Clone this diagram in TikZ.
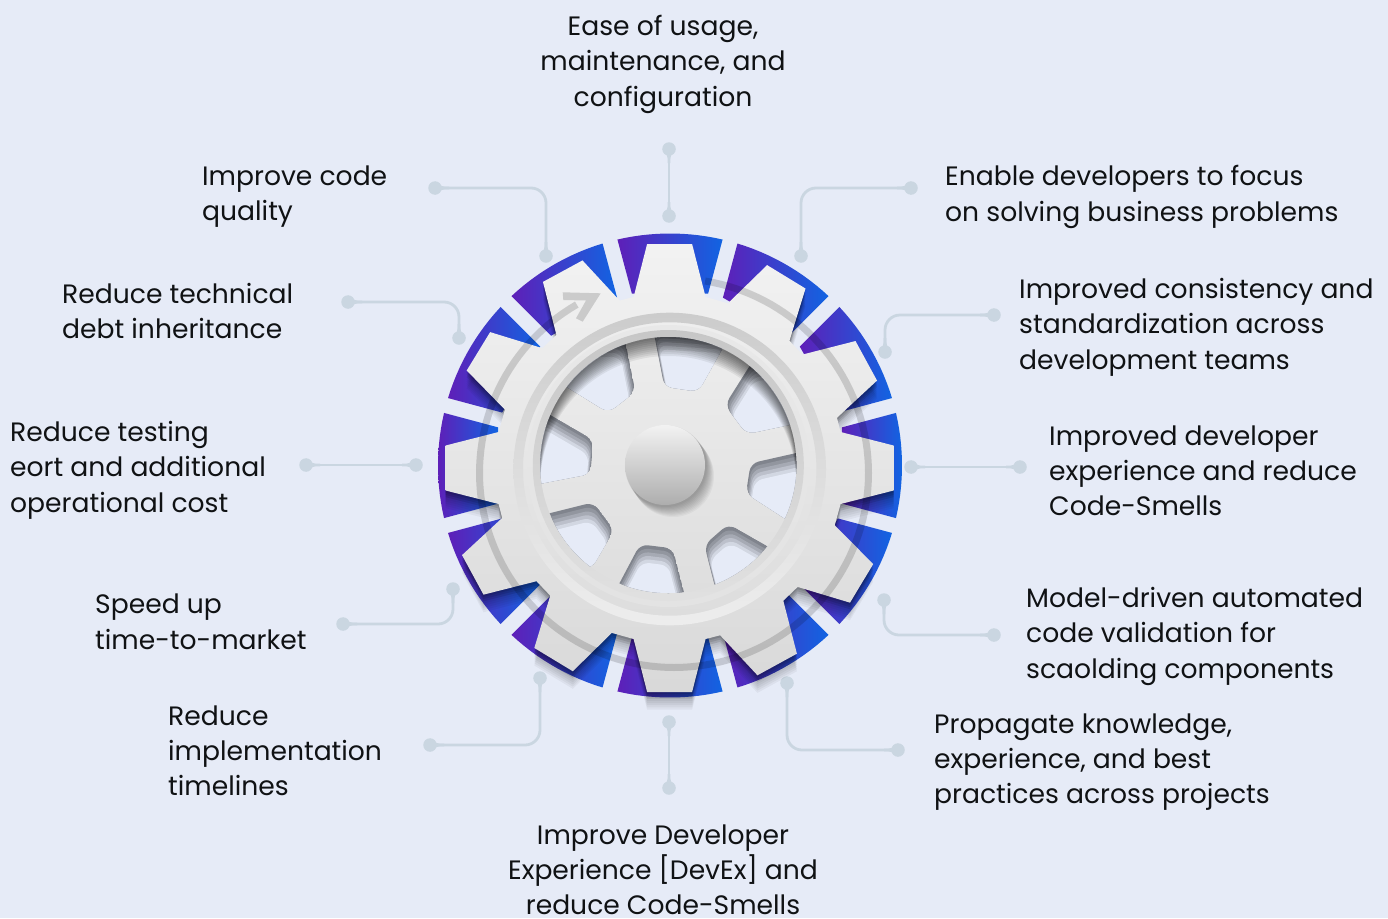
\documentclass[tikz,border=0pt]{standalone}
\usepackage{fontspec}
\setmainfont{Poppins}
\definecolor{bgc}{HTML}{E6EBF7}
\definecolor{gpurple}{HTML}{5E1FB8}
\definecolor{gblue}{HTML}{1164E2}
\definecolor{conncol}{HTML}{CAD6E1}
\definecolor{txt}{HTML}{101214}
\definecolor{h0}{HTML}{80848D}
\definecolor{h1}{HTML}{92969F}
\definecolor{h2}{HTML}{A6AAB4}
\definecolor{h3}{HTML}{BCC0CB}
\definecolor{h4}{HTML}{D2D7E2}
\definecolor{h5}{HTML}{E6EBF7}
\tikzset{
  lab/.style={font=\fontsize{26.6}{35.3}\selectfont,text=txt,align=left,inner sep=0pt,anchor=west,execute at begin node=\strut,execute at end node=\strut},
  labc/.style={font=\fontsize{26.6}{35.3}\selectfont,text=txt,align=center,inner sep=0pt,execute at begin node=\strut,execute at end node=\strut},
  dotn/.style={circle,fill=conncol,inner sep=0pt,minimum size=13.5pt},
  conn/.style={draw=conncol,line width=2.8pt,rounded corners=15pt}
}
% local tooth coordinate to page: x, y(up), clockwise angle
\newcommand\GP[3]{({669.6+(#1)*cos(#3)+(#2)*sin(#3)},{468-(-(#1)*sin(#3)+(#2)*cos(#3))})}
\newcommand\gearpath{\GP{-36}{171}{0}
  \foreach \ang in {0,31.4,61.4,90,121,151.3,180,211.2,241.5,270,301.4,331.5}{
   -- \GP{-36}{171}{\ang} -- \GP{-22.5}{224}{\ang} -- \GP{22.5}{224}{\ang} -- \GP{36}{171}{\ang}} -- cycle}
% a terminal: named dot with taper towards the line
\newcommand\drop[4]{\node[dotn] (#1) at (#2,#3) {};
  \fill[conncol,shift={(#2,#3)},rotate=#4] (0,-6.7) .. controls (6,-1.4) .. (14,-1.4) -- (14,1.4) .. controls (6,1.4) .. (0,6.7) -- cycle;}
% wheel opening: centroid x, centroid y, path
\newcommand\hole[3]{\begin{scope}
  \clip[rounded corners=8pt] #3;
  \foreach \k/\c in {0/h0,1/h1,2/h2,3/h3,4/h4,5/h5}{
    \fill[\c,rounded corners=8pt,shift={(#1,#2+8*\k)},scale={1-0.035*\k},shift={(-#1,-#2)}] #3;}
  \end{scope}}
\begin{document}
\begin{tikzpicture}[x=1pt,y=-1pt]
\useasboundingbox (0,0) rectangle (1388,918);
\fill[bgc] (0,0) rectangle (1388,918);

% connectors
\drop{t1}{669}{149}{270}\drop{t2}{669}{216}{90}
\draw[conn] (t1.center) -- (t2.center);
\drop{ic1}{435}{188}{0}\drop{ic2}{546}{256}{90}
\draw[conn] (ic1.center) -| (ic2.center);
\drop{en1}{911}{188}{180}\drop{en2}{801}{256}{90}
\draw[conn] (en1.center) -| (en2.center);
\drop{rt1}{348}{302}{0}\drop{rt2}{459}{338}{90}
\draw[conn] (rt1.center) -| (rt2.center);
\drop{cs1}{994}{315}{180}\drop{cs2}{885}{352}{90}
\draw[conn] (cs1.center) -| (cs2.center);
\drop{rc1}{306}{465}{0}\drop{rc2}{416}{465}{180}
\draw[conn] (rc1.center) -- (rc2.center);
\drop{dx1}{911}{467}{0}\drop{dx2}{1020}{467}{180}
\draw[conn] (dx1.center) -- (dx2.center);
\drop{sp1}{343}{624}{0}\drop{sp2}{453}{589}{270}
\draw[conn] (sp1.center) -| (sp2.center);
\drop{md1}{994}{635}{180}\drop{md2}{884}{600}{270}
\draw[conn] (md1.center) -| (md2.center);
\drop{im1}{430}{745}{0}\drop{im2}{540}{678}{270}
\draw[conn] (im1.center) -| (im2.center);
\drop{pk1}{898}{750}{180}\drop{pk2}{787}{683}{270}
\draw[conn] (pk1.center) -| (pk2.center);
\drop{de1}{669}{722}{270}\drop{de2}{669}{788}{90}
\draw[conn] (de1.center) -- (de2.center);

% coloured sectors
\foreach \a in {0,30,...,330}{
  \shade[left color=gpurple,right color=gblue]
    ({670+176*sin(\a-12.5)},{465.5-176*cos(\a-12.5)})
    -- plot[domain=\a-13.1:\a+13.1,samples=14,variable=\t] ({670+232*sin(\t)},{465.5-232*cos(\t)})
    -- ({670+176*sin(\a+12.5)},{465.5-176*cos(\a+12.5)}) -- cycle;
}
% stepped gear shadow
\foreach \k in {1,...,8}{
  \fill[black,opacity=0.045,shift={(0,2.2*\k)}] \gearpath;
}
\foreach \k in {1,...,3}{
  \fill[black,opacity=0.07,shift={(0,2.2*\k)}] \gearpath;
}
% gear
\shade[top color=white!95!black,bottom color=white!85!black] \gearpath;
% rim bands
\shade[even odd rule,top color=white!80!black,bottom color=white!93!black]
  (669.7,469) circle[radius=156.3] (669.7,469) circle[radius=146.7];
\shade[top color=white!91!black,bottom color=white!89!black] (668.3,466) circle[radius=141];
\shade[top color=white!78!black,bottom color=white!88!black] (668.3,465.5) circle[radius=135.5];
% wheel
\shade[top color=white!93!black,bottom color=white!87!black] (668.3,465) circle[radius=128];
\begin{scope}
  \clip (668.3,465) circle[radius=128];
  \begin{scope}[shift={(530,330)},scale=0.33333]
    \hole{470}{100}{(370,0) -- (403,170) -- (505,185) -- (600,15) -- cycle}
    \hole{220}{140}{(283,20) -- (316,185) -- (235,248) -- (80,152) -- (80,20) -- cycle}
    \hole{110}{360}{(30,237) -- (190,330) -- (181,432) -- (0,467) -- (0,237) -- cycle}
    \hole{155}{610}{(30,557) -- (190,517) -- (252,600) -- (185,715) -- (30,715) -- cycle}
    \hole{355}{720}{(255,785) -- (330,643) -- (428,655) -- (468,810) -- (255,810) -- cycle}
    \hole{620}{680}{(560,790) -- (523,645) -- (595,582) -- (735,662) -- (735,790) -- cycle}
    \hole{730}{470}{(830,362) -- (662,400) -- (648,490) -- (790,582) -- (830,582) -- cycle}
    \hole{690}{210}{(670,90) -- (585,225) -- (650,312) -- (800,280) -- (800,90) -- cycle}
  \end{scope}
  \foreach \k in {1,...,10}{
    \fill[black,opacity=0.065,even odd rule] (500,300) rectangle (840,640) (668.3,465+1.9*\k) circle[radius=128];
  }
\end{scope}
% knob
\foreach \k in {1,...,10}{
  \fill[black,opacity=0.035] (665+0.8*\k,465+1.1*\k) circle[radius=41];
}
\shade[top color=white!95!black,bottom color=white!68!black] (665,465) circle[radius=40];
% ring with arrow
\draw[black,opacity=0.15,line width=7pt]
  plot[domain=9.2:330,samples=140,variable=\t] ({674+194.5*sin(\t)},{473-194.5*cos(\t)});
\fill[black,opacity=0.15] (600.7,293.3) -- (562.7,292.3) -- (563.3,300) -- (586,300.5) -- (576,318.3) -- (582.7,321.7) -- cycle;

% labels
\node[labc] (l1) at (663,66) {Ease of usage,\\maintenance, and\\configuration};
\node[lab] (l2) at (202,198.5) {Improve code\\quality};
\node[lab] (l3) at (945,198.5) {Enable developers to focus\\on solving business problems};
\node[lab] (l4) at (62,316) {Reduce technical\\debt inheritance};
\node[lab] (l5) at (1019,329) {Improved consistency and\\standardization across\\development teams};
\node[lab] (l6) at (1049,476) {Improved developer\\experience and reduce\\Code-Smells};
\node[lab] (l7) at (10,472) {Reduce testing\\eort and additional\\operational cost};
\node[lab] (l8) at (95,627) {Speed up\\time-to-market};
\node[lab] (l9) at (1026,638) {Model-driven automated\\code validation for\\scaolding components};
\node[lab] (l10) at (168,756) {Reduce\\implementation\\timelines};
\node[lab] (l11) at (934,764) {Propagate knowledge,\\experience, and best\\practices across projects};
\node[labc] (l12) at (663,875) {Improve Developer\\Experience [DevEx] and\\reduce Code-Smells};
\end{tikzpicture}
\end{document}
